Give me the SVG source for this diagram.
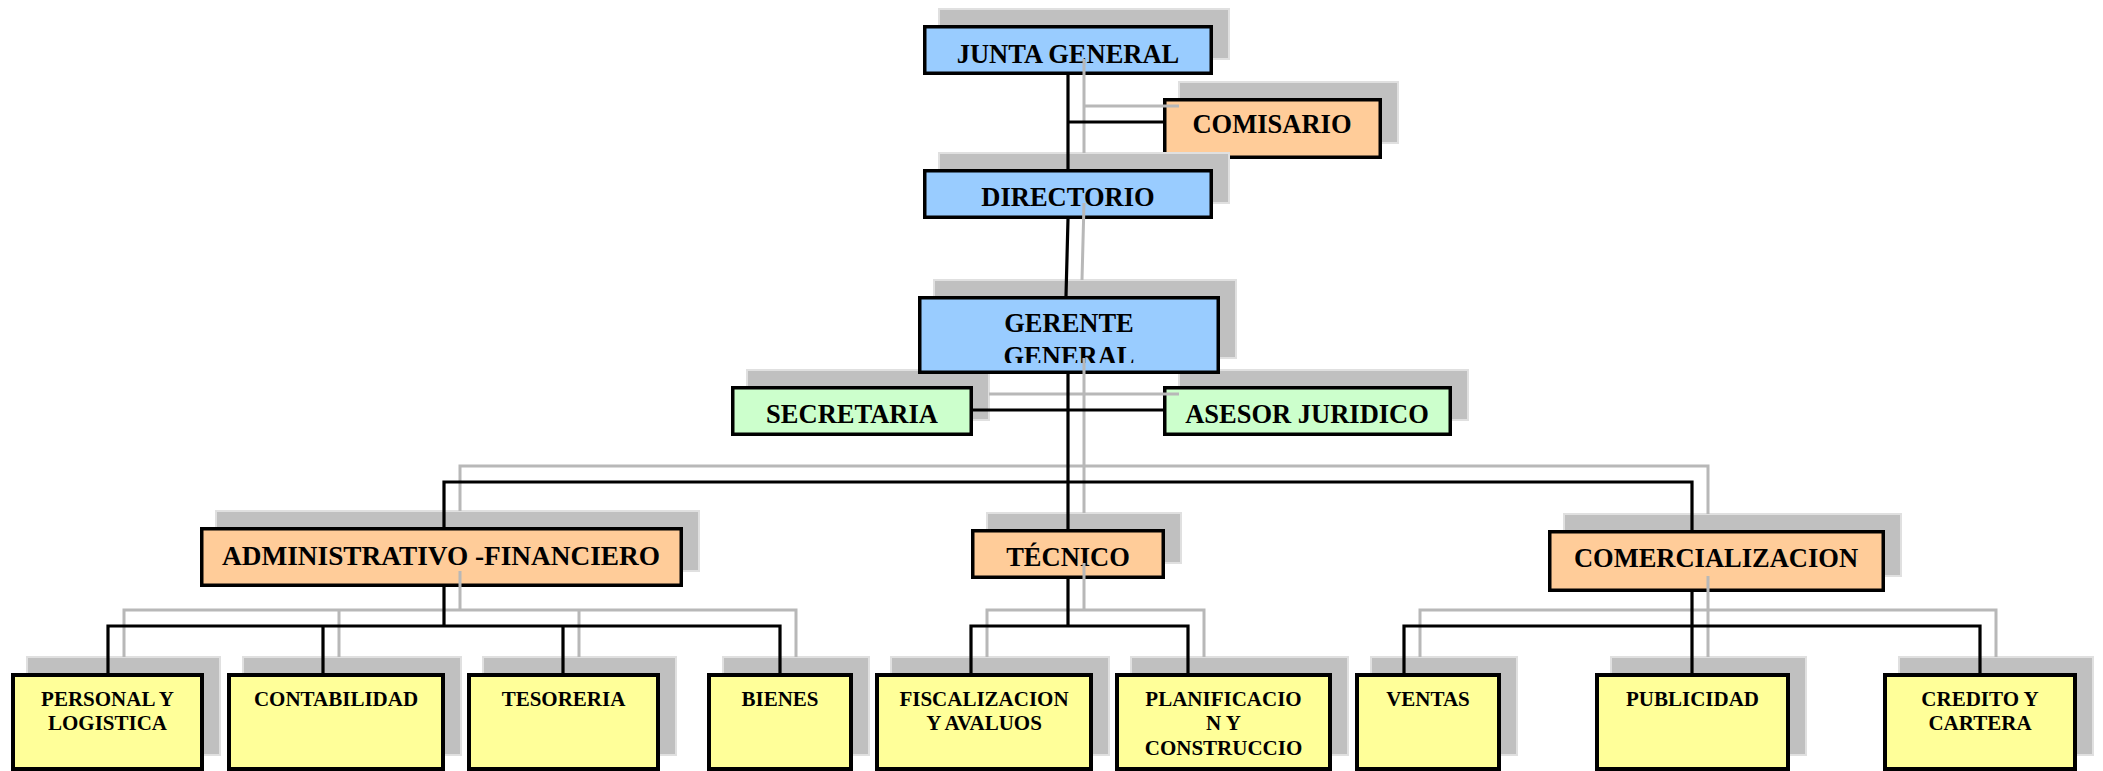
<svg xmlns="http://www.w3.org/2000/svg" width="2103" height="771" viewBox="0 0 2103 771">
<style>
.sh{fill:#C0C0C0;stroke:#E0E0E0;stroke-width:2}
.bx{stroke:#000;stroke-width:3.5}
.bb{stroke:#000;stroke-width:4}
.blue{fill:#99CCFF}.orange{fill:#FFCC99}.green{fill:#CCFFCC}.yellow{fill:#FFFF99}
.t{font-family:"Liberation Serif","Times New Roman",serif;font-weight:bold;font-size:26.5px;text-anchor:middle;fill:#000}
.ts{font-size:21px}
.ln{fill:none;stroke:#000;stroke-width:3.2}
.gl{fill:none;stroke:#B8B8B8;stroke-width:3}
</style>
<defs>
<clipPath id="cg"><rect x="920" y="298" width="298" height="65"/></clipPath>
</defs>
<rect width="2103" height="771" fill="#fff"/>
<g id="nodes">
<g id="junta"><rect class="sh" x="939" y="9" width="290" height="50"/><rect class="bx blue" x="924.75" y="26.75" width="286.5" height="46.5"/><text class="t" x="1068" y="63">JUNTA GENERAL</text></g>
<g id="comisario"><rect class="sh" x="1179" y="82" width="219" height="61"/><rect class="bx orange" x="1164.75" y="99.75" width="215.5" height="57.5"/><text class="t" x="1272" y="133">COMISARIO</text></g>
<g id="directorio"><rect class="sh" x="939" y="153" width="290" height="50"/><rect class="bx blue" x="924.75" y="170.75" width="286.5" height="46.5"/><text class="t" x="1068" y="206">DIRECTORIO</text></g>
<g id="secretaria"><rect class="sh" x="747" y="370" width="242" height="50"/><rect class="bx green" x="732.75" y="387.75" width="238.5" height="46.5"/><text class="t" x="852" y="423">SECRETARIA</text></g>
<g id="asesor"><rect class="sh" x="1179" y="370" width="289" height="50"/><rect class="bx green" x="1164.75" y="387.75" width="285.5" height="46.5"/><text class="t" x="1307" y="423">ASESOR JURIDICO</text></g>
<g id="gerente"><rect class="sh" x="934" y="280" width="302" height="78"/><rect class="bx blue" x="919.75" y="297.75" width="298.5" height="74.5"/><g clip-path="url(#cg)"><text class="t" x="1069" y="332">GERENTE</text><text class="t" x="1069" y="365">GENERAL</text></g></g>
<g id="admin"><rect class="sh" x="216" y="511" width="483" height="60"/><rect class="bx orange" x="201.75" y="528.75" width="479.5" height="56.5"/><text class="t" x="441" y="565" style="font-size:27.3px">ADMINISTRATIVO -FINANCIERO</text></g>
<g id="tecnico"><rect class="sh" x="987" y="513" width="194" height="50"/><rect class="bx orange" x="972.75" y="530.75" width="190.5" height="46.5"/><text class="t" x="1068" y="566">TÉCNICO</text></g>
<g id="comercializacion"><rect class="sh" x="1564" y="514" width="337" height="62"/><rect class="bx orange" x="1549.75" y="531.75" width="333.5" height="58.5"/><text class="t" x="1716" y="567">COMERCIALIZACION</text></g>
<g id="personal"><rect class="sh" x="27" y="657" width="193" height="98"/><rect class="bb yellow" x="13" y="675" width="189" height="94"/><text class="t ts" x="107.5" y="706">PERSONAL Y</text><text class="t ts" x="107.5" y="730">LOGISTICA</text></g>
<g id="contabilidad"><rect class="sh" x="243" y="657" width="218" height="98"/><rect class="bb yellow" x="229" y="675" width="214" height="94"/><text class="t ts" x="336" y="706">CONTABILIDAD</text></g>
<g id="tesoreria"><rect class="sh" x="483" y="657" width="193" height="98"/><rect class="bb yellow" x="469" y="675" width="189" height="94"/><text class="t ts" x="563.5" y="706">TESORERIA</text></g>
<g id="bienes"><rect class="sh" x="723" y="657" width="146" height="98"/><rect class="bb yellow" x="709" y="675" width="142" height="94"/><text class="t ts" x="780" y="706">BIENES</text></g>
<g id="fiscalizacion"><rect class="sh" x="891" y="657" width="218" height="98"/><rect class="bb yellow" x="877" y="675" width="214" height="94"/><text class="t ts" x="984" y="706">FISCALIZACION</text><text class="t ts" x="984" y="730">Y AVALUOS</text></g>
<g id="planificacion"><rect class="sh" x="1131" y="657" width="217" height="98"/><rect class="bb yellow" x="1117" y="675" width="213" height="94"/><text class="t ts" x="1223.5" y="706">PLANIFICACIO</text><text class="t ts" x="1223.5" y="730">N Y</text><text class="t ts" x="1223.5" y="755">CONSTRUCCIO</text></g>
<g id="ventas"><rect class="sh" x="1371" y="657" width="146" height="98"/><rect class="bb yellow" x="1357" y="675" width="142" height="94"/><text class="t ts" x="1428" y="706">VENTAS</text></g>
<g id="publicidad"><rect class="sh" x="1611" y="657" width="195" height="98"/><rect class="bb yellow" x="1597" y="675" width="191" height="94"/><text class="t ts" x="1692.5" y="706">PUBLICIDAD</text></g>
<g id="credito"><rect class="sh" x="1899" y="657" width="194" height="98"/><rect class="bb yellow" x="1885" y="675" width="190" height="94"/><text class="t ts" x="1980" y="706">CREDITO Y</text><text class="t ts" x="1980" y="730">CARTERA</text></g>
</g>
<g id="connectors">
<defs><path id="cp" d="M1068,75 V169 M1068,122 H1163 M1068,219 L1066,296 M1068,374 V529 M973,410 H1163 M444,527 V482 H1692 V530 M444,587 V626 M108,673 V626 H780 V673 M323,626 V673 M563,626 V673 M1068,579 V626 M971,673 V626 H1188 V673 M1692,592 V673 M1404,673 V626 H1980 V673"/></defs>
<use href="#cp" class="gl" transform="translate(16,-16)"/>
<use href="#cp" class="ln"/>
</g>
</svg>
